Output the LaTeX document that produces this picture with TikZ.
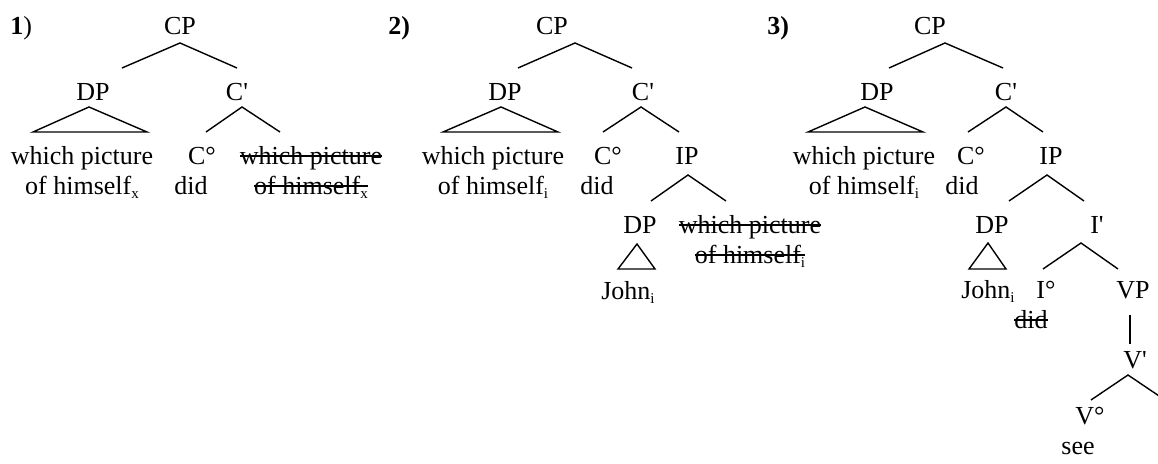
\documentclass[tikz,border=0pt]{standalone}
\usepackage{fontspec}
\setmainfont{Liberation Serif}
\newcommand\strk[1]{\sbox0{#1}\rlap{\rule[0.3em]{\wd0}{0.085em}}\usebox0}
\newcommand\twoline[2]{\begin{tabular}[t]{@{}c@{}}#1\\#2\end{tabular}}
\newcommand\pr{\textquotesingle}
\newcommand\sbs[1]{\raisebox{-1.6pt}{\fontsize{7.5}{8}\selectfont #1}}
\begin{document}
\begin{tikzpicture}[x=0.5pt,y=-0.5pt,
  lab/.style={anchor=base,inner sep=0pt,font=\fontsize{13}{15}\selectfont},
  br/.style={line width=0.7pt,line join=miter}]
\useasboundingbox (0,0) rectangle (1158,464);
\clip (0,0) rectangle (1158,464);
% ---------- Tree 1
\node[lab,anchor=base west] (n1) at (10,35) {\textbf{1})};
\node[lab] (cp1) at (180,35) {CP};
\node[lab] (dp1) at (93,101) {DP};
\node[lab] (cb1) at (237,101) {C\pr};
\node[lab] (wp1) at (82,165) {\twoline{which picture}{of himself\sbs{x}}};
\node[lab] (c1) at (202,165) {C°};
\node[lab] (did1) at (191,195) {did};
\node[lab] (tr1) at (311,165) {\twoline{\strk{which picture}}{\strk{of himself\sbs{x}}}};
\coordinate (cp1t) at (180,43); \coordinate (cp1l) at (122,68); \coordinate (cp1r) at (237,68);
\draw[br] (cp1l) -- (cp1t) -- (cp1r);
\coordinate (dp1t) at (89,107); \coordinate (dp1l) at (33,132); \coordinate (dp1r) at (147,132);
\draw[br] (dp1t) -- (dp1l) -- (dp1r) -- cycle;
\coordinate (cb1t) at (242,107); \coordinate (cb1l) at (206,132); \coordinate (cb1r) at (280,132);
\draw[br] (cb1l) -- (cb1t) -- (cb1r);
% ---------- Tree 2
\node[lab,anchor=base west] (n2) at (388,35) {\textbf{2)}};
\node[lab] (cp2) at (552,35) {CP};
\node[lab] (dp2) at (505,101) {DP};
\node[lab] (cb2) at (643,101) {C\pr};
\node[lab] (wp2) at (493,165) {\twoline{which picture}{of himself\sbs{i}}};
\node[lab] (c2) at (608,165) {C°};
\node[lab] (did2) at (597,195) {did};
\node[lab] (ip2) at (687,165) {IP};
\node[lab] (dpj2) at (640,234) {DP};
\node[lab] (john2) at (628,300) {John\sbs{i}};
\node[lab] (tr2) at (750,234) {\twoline{\strk{which picture}}{\strk{of himself\sbs{i}}}};
\coordinate (cp2t) at (575,43); \coordinate (cp2l) at (518,68); \coordinate (cp2r) at (632,68);
\draw[br] (cp2l) -- (cp2t) -- (cp2r);
\coordinate (dp2t) at (501,107); \coordinate (dp2l) at (443,132); \coordinate (dp2r) at (558,132);
\draw[br] (dp2t) -- (dp2l) -- (dp2r) -- cycle;
\coordinate (cb2t) at (641,107); \coordinate (cb2l) at (603,132); \coordinate (cb2r) at (679,132);
\draw[br] (cb2l) -- (cb2t) -- (cb2r);
\coordinate (ip2t) at (688,175); \coordinate (ip2l) at (651,201); \coordinate (ip2r) at (726,201);
\draw[br] (ip2l) -- (ip2t) -- (ip2r);
\coordinate (dpj2t) at (637,244); \coordinate (dpj2l) at (618,269); \coordinate (dpj2r) at (655,269);
\draw[br] (dpj2t) -- (dpj2l) -- (dpj2r) -- cycle;
% ---------- Tree 3
\node[lab,anchor=base west] (n3) at (767,35) {\textbf{3)}};
\node[lab] (cp3) at (930,35) {CP};
\node[lab] (dp3) at (877,101) {DP};
\node[lab] (cb3) at (1006,101) {C\pr};
\node[lab] (wp3) at (864,165) {\twoline{which picture}{of himself\sbs{i}}};
\node[lab] (c3) at (971,165) {C°};
\node[lab] (did3) at (962,195) {did};
\node[lab] (ip3) at (1051,165) {IP};
\node[lab] (dpj3) at (992,234) {DP};
\node[lab] (ib3) at (1097,234) {I\pr};
\node[lab] (john3) at (988,299) {John\sbs{i}};
\node[lab] (i3) at (1046,299) {I°};
\node[lab] (didx3) at (1031,329) {\strk{did}};
\node[lab] (vp3) at (1133,299) {VP};
\node[lab] (vb3) at (1135,369) {V\pr};
\node[lab] (v3) at (1090,425) {V°};
\node[lab] (see3) at (1078,455) {see};
\coordinate (cp3t) at (945,43); \coordinate (cp3l) at (889,68); \coordinate (cp3r) at (1003,68);
\draw[br] (cp3l) -- (cp3t) -- (cp3r);
\coordinate (dp3t) at (865,107); \coordinate (dp3l) at (808,132); \coordinate (dp3r) at (923,132);
\draw[br] (dp3t) -- (dp3l) -- (dp3r) -- cycle;
\coordinate (cb3t) at (1006,107); \coordinate (cb3l) at (968,132); \coordinate (cb3r) at (1043,132);
\draw[br] (cb3l) -- (cb3t) -- (cb3r);
\coordinate (ip3t) at (1047,175); \coordinate (ip3l) at (1009,201); \coordinate (ip3r) at (1084,201);
\draw[br] (ip3l) -- (ip3t) -- (ip3r);
\coordinate (dpj3t) at (988,243); \coordinate (dpj3l) at (969,269); \coordinate (dpj3r) at (1006,269);
\draw[br] (dpj3t) -- (dpj3l) -- (dpj3r) -- cycle;
\coordinate (ib3t) at (1081,243); \coordinate (ib3l) at (1043,269); \coordinate (ib3r) at (1118,269);
\draw[br] (ib3l) -- (ib3t) -- (ib3r);
\coordinate (vp3b) at (1130,315); \coordinate (vb3t) at (1130,344);
\draw[br] (vp3b) -- (vb3t);
\coordinate (vb3a) at (1128,375); \coordinate (vb3l) at (1091,400); \coordinate (vb3r) at (1165,400);
\draw[br] (vb3l) -- (vb3a) -- (vb3r);
\end{tikzpicture}
\end{document}
